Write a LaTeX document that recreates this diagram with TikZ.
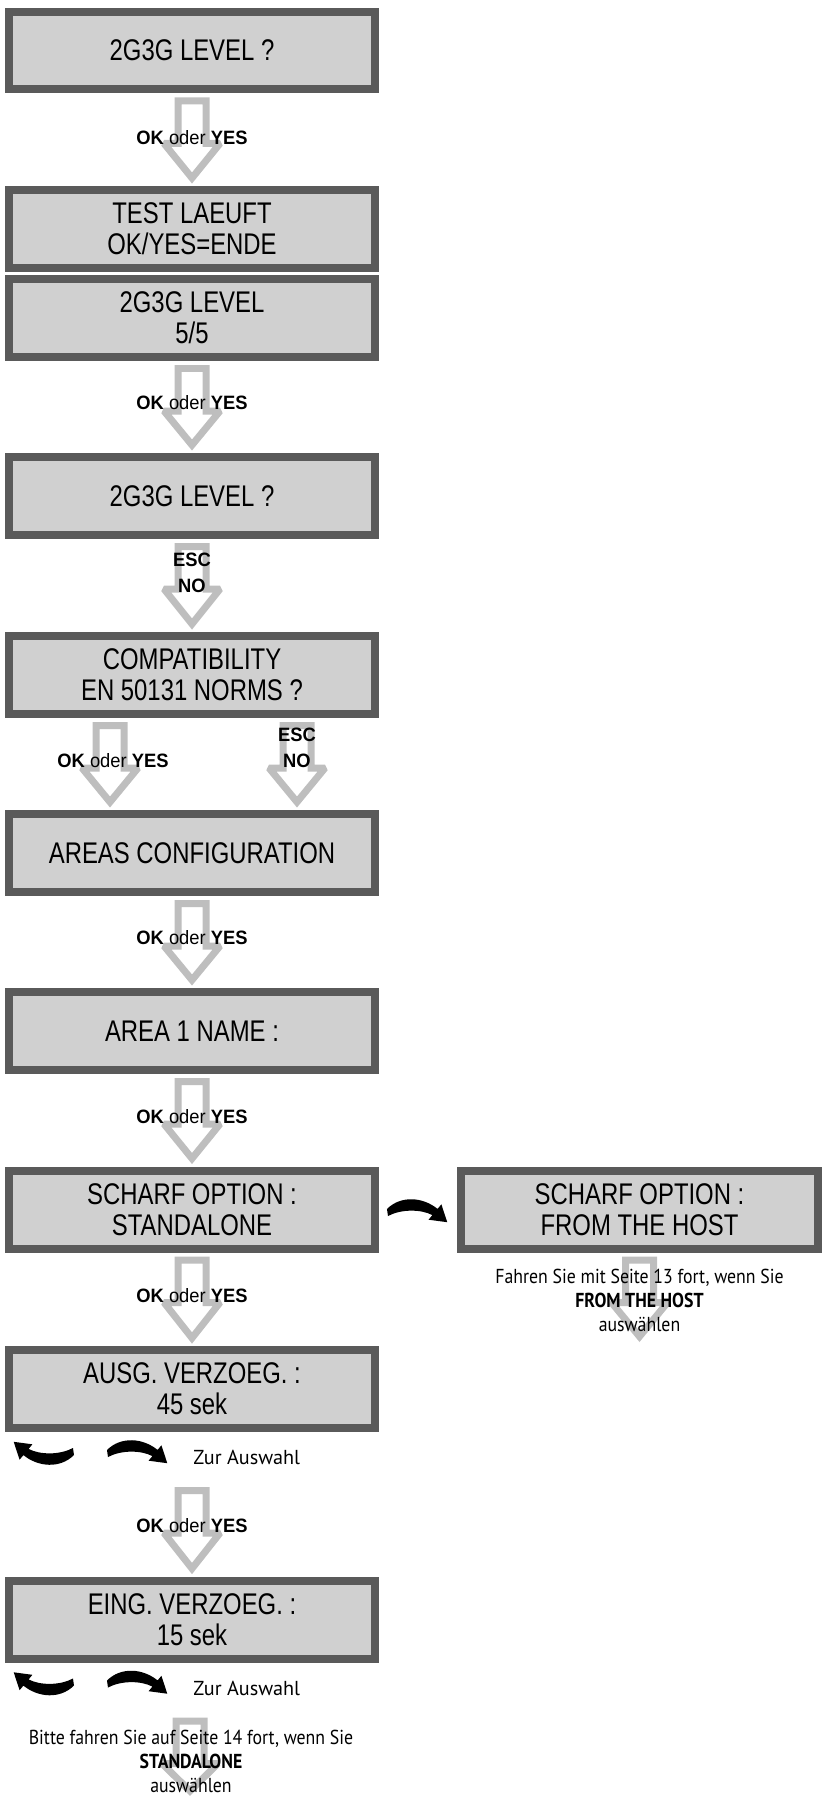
\documentclass[tikz,border=0pt]{standalone}
\usepackage{fontspec}
\setmainfont{Liberation Sans}
\newfontfamily\boxfont[FakeStretch=0.8]{Liberation Sans}
\newfontfamily\keyfont[FakeStretch=0.95]{Liberation Sans}
\newfontfamily\notefont[FakeStretch=0.88]{PT Sans}
\newfontfamily\hintfont{PT Sans}
\usepackage{xcolor}
\usepackage{tikz}
\usetikzlibrary{calc}
\definecolor{boxgray}{HTML}{D0D0D0}
\definecolor{framegray}{HTML}{5A5A5A}
\definecolor{arrowgray}{HTML}{BEBEBE}

% hollow key arrow: top at #1, tip at the level of #2
\newcommand{\hollowarrow}[2]{%
  \draw[hollow] ($(#1)+(-14,7.5)$) -- ($(#1)+(14,7.5)$) -- ($(#1)+(14,50)$)
    -- ($(#1)+(28,50)$) -- ($(#1 |- #2)+(0,-8)$) -- ($(#1)+(-28,50)$)
    -- ($(#1)+(-14,50)$) -- cycle;}

\begin{document}
\begin{tikzpicture}[x=0.02cm,y=-0.02cm,
    screen/.style={draw=framegray, line width=0.16cm, fill=boxgray,
      minimum width=7.32cm, minimum height=1.56cm, inner sep=0pt, align=center,
      font={\boxfont\fontsize{17}{17.6}\selectfont}},
    hollow/.style={draw=arrowgray, line width=0.14cm, fill=white,
      line join=miter, miter limit=1.7},
    keylabel/.style={font={\keyfont\fontsize{11}{14.7}\selectfont}, align=center, inner sep=0pt},
    note/.style={font={\notefont\fontsize{11.5}{13.6}\selectfont}, align=center, inner sep=0pt},
    hint/.style={font={\hintfont\fontsize{11.5}{14}\selectfont}, anchor=west, inner sep=0pt},
    turnarrow/.pic={\fill (0,-3) .. controls (14,-17) and (36,-15) .. (50.6,-3.1)
      -- (54.4,-7.7) -- (60.3,10.2) -- (41.6,7.7) -- (45.4,3.1)
      .. controls (34,-3) and (14,-3) .. (1,4) -- cycle;}]
  \useasboundingbox (0,0) rectangle (822,1796);
  % Display screens
  \node[screen] (b1) at (192,50.5) {2G3G LEVEL ?};
  \node[screen] (b2) at (192,229) {TEST LAEUFT\\OK/YES=ENDE};
  \node[screen] (b3) at (192,318) {2G3G LEVEL\\5/5};
  \node[screen] (b4) at (192,496) {2G3G LEVEL ?};
  \node[screen] (b5) at (192,675) {COMPATIBILITY\\EN 50131 NORMS ?};
  \node[screen] (b6) at (192,853) {AREAS CONFIGURATION};
  \node[screen] (b7) at (192,1031) {AREA 1 NAME :};
  \node[screen] (b8) at (192,1209.5) {SCHARF OPTION :\\STANDALONE};
  \node[screen, minimum width=7.14cm] (h8) at (639.5,1209.5) {SCHARF OPTION :\\FROM THE HOST};
  \node[screen] (b9) at (192,1389) {AUSG. VERZOEG. :\\45 sek};
  \node[screen] (b10) at (192,1619.5) {EING. VERZOEG. :\\15 sek};
  % Arrow start and end points
  \coordinate (l5) at ($(b5.south)+(-82,0)$);
  \coordinate (r5) at ($(b5.south)+(105,0)$);
  \coordinate (t9) at ($(b9.south)+(0,51)$);
  \coordinate (t10) at ($(b10.south)+(-2,51)$);
  \coordinate (end8) at ($(h8.south)+(0,92)$);
  \coordinate (end10) at (190,1799);
  % Key arrows
  \hollowarrow{b1.south}{b2.north}
  \hollowarrow{b3.south}{b4.north}
  \hollowarrow{b4.south}{b5.north}
  \hollowarrow{l5}{b6.north}
  \hollowarrow{r5}{b6.north}
  \hollowarrow{b6.south}{b7.north}
  \hollowarrow{b7.south}{b8.north}
  \hollowarrow{b8.south}{b9.north}
  \hollowarrow{h8.south}{end8}
  \hollowarrow{t9}{b10.north}
  \hollowarrow{t10}{end10}
  % Turn arrows
  \pic at ($(b8.east)+(8,2.5)$) {turnarrow};
  \pic at ($(b9.south)+(-85,21)$) {turnarrow};
  \pic[rotate=180] at ($(b9.south)+(-118,20)$) {turnarrow};
  \pic at ($(b10.south)+(-85,21)$) {turnarrow};
  \pic[rotate=180] at ($(b10.south)+(-118,20)$) {turnarrow};
  % Key labels
  \node[keylabel] (k1) at ($(b1.south)!0.5!(b2.north)+(0,-2)$) {\textbf{OK} oder \textbf{YES}};
  \node[keylabel] (k3) at ($(b3.south)!0.5!(b4.north)+(0,-4)$) {\textbf{OK} oder \textbf{YES}};
  \node[keylabel] (e4) at ($(b4.south)!0.5!(b5.north)+(0,-13)$) {\textbf{ESC}\\\textbf{NO}};
  \node[keylabel] (k5) at ($(l5)!0.5!(l5 |- b6.north)+(3,-3)$) {\textbf{OK} oder \textbf{YES}};
  \node[keylabel] (e5) at ($(r5)!0.5!(r5 |- b6.north)+(0,-16)$) {\textbf{ESC}\\\textbf{NO}};
  \node[keylabel] (k6) at ($(b6.south)!0.5!(b7.north)+(0,-4)$) {\textbf{OK} oder \textbf{YES}};
  \node[keylabel] (k7) at ($(b7.south)!0.5!(b8.north)+(0,-4)$) {\textbf{OK} oder \textbf{YES}};
  \node[keylabel] (k8) at ($(b8.south)!0.5!(b9.north)+(0,-4)$) {\textbf{OK} oder \textbf{YES}};
  \node[keylabel] (k9) at ($(t9)!0.5!(b10.north)+(0,-4)$) {\textbf{OK} oder \textbf{YES}};
  % Notes
  \node[hint] (z9) at ($(b9.south)+(1,25)$) {Zur Auswahl};
  \node[hint] (z10) at ($(b10.south)+(1,26)$) {Zur Auswahl};
  \node[note] (n8) at ($(h8.south)+(0,48)$) {Fahren Sie mit Seite 13 fort, wenn Sie\\\textbf{FROM THE HOST}\\auswählen};
  \node[note] (n10) at ($(b10.south)+(-1,99)$) {Bitte fahren Sie auf Seite 14 fort, wenn Sie\\\textbf{STANDALONE}\\auswählen};
\end{tikzpicture}
\end{document}
